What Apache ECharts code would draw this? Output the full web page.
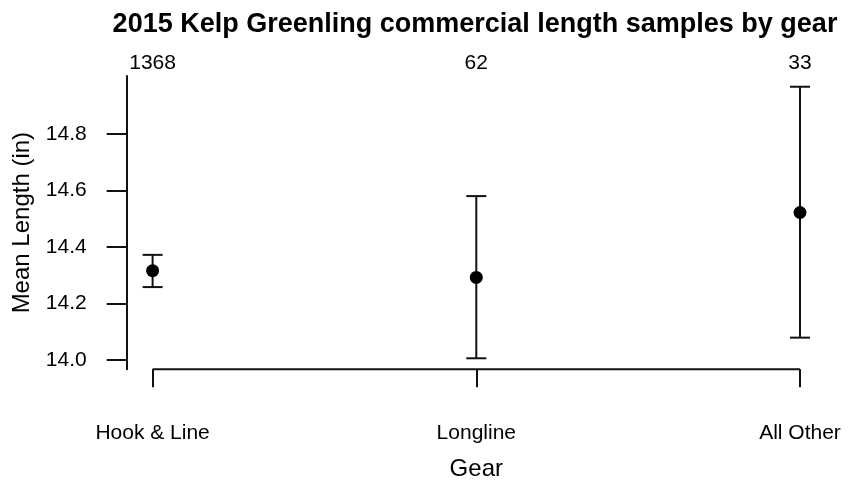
<!DOCTYPE html>
<html>
<head>
<meta charset="utf-8">
<script src="https://cdn.jsdelivr.net/npm/echarts@6/dist/echarts.min.js"></script>
<style>html,body{margin:0;padding:0;background:#fff}#c{width:849px;height:483px}</style>
</head>
<body>
<div id="c"></div>
<script>
const title = '2015 Kelp Greenling commercial length samples by gear';
const categories = ['Hook & Line', 'Longline', 'All Other'];
const counts = [1368, 62, 33];
const means = [14.316, 14.292, 14.522];
const lower = [14.258, 14.006, 14.079];
const upper = [14.372, 14.580, 14.967];
const yTicks = [14.0, 14.2, 14.4, 14.6, 14.8];
const xTicks = [1, 2, 3];

const Y_MIN = 13.967, Y_MAX = 15.005;
const X_MIN = 0.92, X_MAX = 3.08;
const FONT = 'Liberation Sans, Arial, sans-serif';
const INK = '#111';

const chart = echarts.init(document.getElementById('c'), null, {renderer: 'canvas'});

const errData = categories.map((c, i) => [xTicks[i], lower[i], upper[i]]);
const ptData = categories.map((c, i) => [xTicks[i], means[i]]);

chart.setOption({
  animation: false,
  backgroundColor: '#fff',
  textStyle: {fontFamily: FONT},
  title: {
    text: title,
    left: 470,
    textAlign: 'center',
    top: 6,
    textStyle: {fontFamily: FONT, fontSize: 27, fontWeight: 'bold', color: '#000'}
  },
  grid: {left: 126.7, right: 23.1, top: 76, bottom: 113.7, containLabel: false, outerBoundsMode: 'none'},
  xAxis: [{
    type: 'value', min: X_MIN, max: X_MAX,
    name: 'Gear', nameLocation: 'middle', nameGap: 88,
    nameTextStyle: {fontFamily: FONT, fontSize: 24, color: '#000'},
    axisLine: {show: false},
    axisTick: {show: true, customValues: xTicks, length: 18, lineStyle: {color: INK, width: 2}},
    axisLabel: {customValues: xTicks, margin: 53, fontFamily: FONT, fontSize: 21, color: '#000',
      formatter: v => categories[Math.round(v) - 1] || ''},
    splitLine: {show: false}
  }, {
    type: 'value', min: X_MIN, max: X_MAX, position: 'top',
    axisLine: {show: false}, axisTick: {show: false}, splitLine: {show: false},
    axisLabel: {customValues: xTicks, margin: 2, fontFamily: FONT, fontSize: 21, color: '#000',
      formatter: v => String(counts[Math.round(v) - 1] ?? '')}
  }],
  yAxis: {
    type: 'value', min: Y_MIN, max: Y_MAX,
    name: 'Mean Length (in)', nameLocation: 'middle', nameGap: 92,
    nameTextStyle: {fontFamily: FONT, fontSize: 24, color: '#000'},
    axisLine: {show: true, lineStyle: {color: INK, width: 2}},
    axisTick: {show: true, customValues: yTicks, length: 20, lineStyle: {color: INK, width: 2}},
    axisLabel: {customValues: yTicks, margin: 40, fontFamily: FONT, fontSize: 21, color: '#000',
      formatter: v => v.toFixed(1)},
    splitLine: {show: false}
  },
  series: [{
    type: 'line',
    data: [[xTicks[0], Y_MIN], [xTicks[xTicks.length - 1], Y_MIN]],
    showSymbol: false, symbol: 'none', clip: false, silent: true,
    lineStyle: {color: INK, width: 2}
  }, {
    type: 'custom',
    data: errData,
    clip: false,
    renderItem: (params, api) => {
      const x = api.value(0);
      const lo = api.coord([x, api.value(1)]);
      const hi = api.coord([x, api.value(2)]);
      const hw = 10;
      const style = {stroke: INK, lineWidth: 2};
      return {type: 'group', children: [
        {type: 'line', shape: {x1: lo[0], y1: lo[1], x2: hi[0], y2: hi[1]}, style},
        {type: 'line', shape: {x1: lo[0] - hw, y1: lo[1], x2: lo[0] + hw, y2: lo[1]}, style},
        {type: 'line', shape: {x1: hi[0] - hw, y1: hi[1], x2: hi[0] + hw, y2: hi[1]}, style}
      ]};
    }
  }, {
    type: 'scatter',
    data: ptData,
    symbol: 'circle', symbolSize: 13,
    itemStyle: {color: '#000', opacity: 1}
  }]
});
</script>
</body>
</html>
